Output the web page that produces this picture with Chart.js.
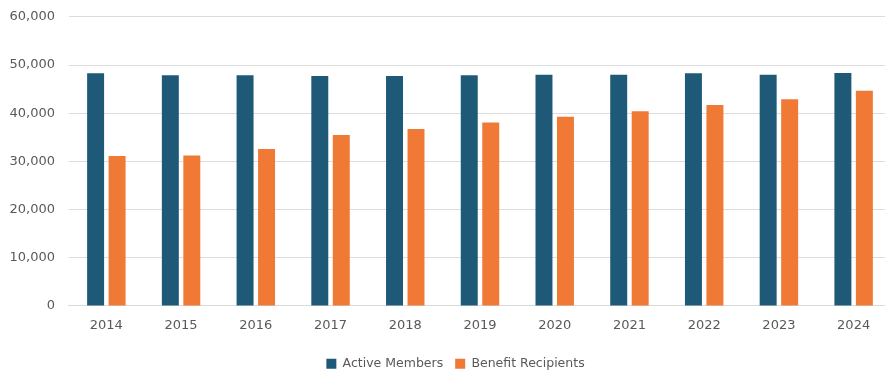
<!DOCTYPE html>
<html>
<head>
<meta charset="utf-8">
<script src="https://cdn.jsdelivr.net/npm/chart.js@4"></script>
<style>
html,body{margin:0;padding:0;background:#fff;overflow:hidden;width:885px;height:374px;}
#wrap{width:916px;height:374px;position:relative;}
</style>
</head>
<body>
<div id="wrap"><canvas id="c"></canvas></div>
<script>
const years = ["2014","2015","2016","2017","2018","2019","2020","2021","2022","2023","2024"];
const activeMembers = [48300, 47900, 47900, 47750, 47750, 47900, 48000, 48000, 48300, 48000, 48350];
const benefitRecipients = [31100, 31250, 32600, 35500, 36750, 38100, 39250, 40400, 41700, 42900, 44650];
const yTicks = [0, 10000, 20000, 30000, 40000, 50000, 60000];

const textColor = '#595959';
new Chart(document.getElementById('c'), {
  type: 'bar',
  data: {
    labels: years,
    datasets: [
      { label: 'Active Members', data: activeMembers, backgroundColor: '#1e5a78', barPercentage: 0.79, categoryPercentage: 0.575 },
      { label: 'Benefit Recipients', data: benefitRecipients, backgroundColor: '#f07a35', barPercentage: 0.79, categoryPercentage: 0.575 }
    ]
  },
  options: {
    responsive: true,
    maintainAspectRatio: false,
    animation: false,
    layout: { padding: { left: -4.5, right: 0.5, top: 0, bottom: -6 } },
    plugins: {
      legend: {
        position: 'bottom',
        labels: {
          boxWidth: 10, boxHeight: 10, padding: 12,
          color: textColor,
          font: { family: 'DejaVu Sans', size: 12.5 }
        }
      },
      tooltip: { enabled: false }
    },
    scales: {
      x: {
        grid: { display: false, drawTicks: false },
        border: { display: true, color: '#d9d9d9' },
        ticks: { color: textColor, padding: 12, font: { family: 'DejaVu Sans', size: 13 } }
      },
      y: {
        min: 0, max: 60000,
        afterBuildTicks: (axis) => { axis.ticks = yTicks.map(v => ({ value: v })); },
        grid: { color: '#dcdcdc', drawTicks: false },
        border: { display: false },
        ticks: {
          color: textColor, padding: 14,
          font: { family: 'DejaVu Sans', size: 13, lineHeight: 0.45 },
          callback: (v) => v.toLocaleString('en-US')
        }
      },
      y2: {
        position: 'right',
        display: true,
        grid: { display: false, drawTicks: false },
        border: { display: false },
        ticks: { display: false },
        afterFit: (axis) => { axis.width = 24.5; }
      }
    }
  }
});
</script>
</body>
</html>
